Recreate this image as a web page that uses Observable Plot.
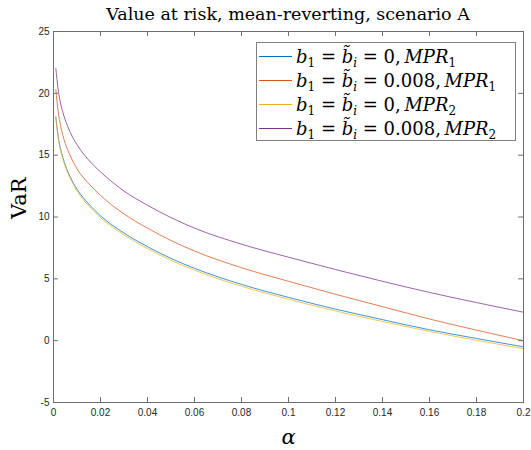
<!DOCTYPE html>
<html><head><meta charset="utf-8">
<script src="https://cdn.jsdelivr.net/npm/d3@7"></script>
<script src="https://cdn.jsdelivr.net/npm/@observablehq/plot@0.6"></script>
<style>
body{margin:0;background:#fff}
#wrap{position:relative;width:531px;height:450px;overflow:hidden}
#title{position:absolute;left:53px;width:470px;top:4px;text-align:center;font-family:"DejaVu Serif",serif;font-size:17.5px;line-height:20px;color:#000}
#legend{position:absolute;left:256px;top:42px;width:258px;height:96px;border:1px solid #808080;background:#fff;padding-top:1px}
.row{display:flex;align-items:center;height:24px;font-family:"DejaVu Serif",serif;font-size:18px;color:#000;white-space:nowrap}
.sw{display:inline-block;width:33px;height:1px;margin-left:2px;margin-right:4px;flex:none}
.row i{font-style:italic}
.row sub{font-size:12px;vertical-align:-4px;line-height:0}
</style></head>
<body><div id="wrap"><div id="chart"></div><div id="title"></div><div id="legend"></div></div>
<script>
const titleText = "Value at risk, mean-reverting, scenario A";
const xLabel = "α";
const yLabel = "VaR";
const xTicks = [0, 0.02, 0.04, 0.06, 0.08, 0.1, 0.12, 0.14, 0.16, 0.18, 0.2];
const xTickLabels = ["0", "0.02", "0.04", "0.06", "0.08", "0.1", "0.12", "0.14", "0.16", "0.18", "0.2"];
const yTicks = [-5, 0, 5, 10, 15, 20, 25];
const yTickLabels = ["-5", "0", "5", "10", "15", "20", "25"];

const alpha = [0.001,0.002,0.003,0.004,0.005,0.006,0.008,0.01,0.015,0.02,0.03,0.04,0.05,0.06,0.08,0.1,0.12,0.14,0.16,0.18,0.2];
const varB0Mpr1   = [18.1,16.5,15.5,14.8,14.2,13.7,12.9,12.25,11.05,10.1,8.7,7.6,6.65,5.85,4.55,3.5,2.55,1.7,0.88,0.18,-0.5];
const varB008Mpr1 = [20.3,18.5,17.4,16.6,15.95,15.45,14.6,13.9,12.7,11.75,10.25,9.1,8.1,7.25,5.9,4.8,3.75,2.75,1.75,0.85,0.0];
const varB0Mpr2   = [18.0,16.4,15.4,14.7,14.1,13.6,12.8,12.1,10.9,9.95,8.55,7.45,6.5,5.7,4.4,3.35,2.4,1.55,0.75,0.03,-0.65];
const varB008Mpr2 = [22.0,20.3,19.2,18.45,17.85,17.35,16.5,15.85,14.6,13.65,12.1,10.95,9.95,9.1,7.8,6.75,5.75,4.8,3.9,3.08,2.3];

const seriesNames = ["s1","s2","s3","s4"];
const seriesValues = [varB0Mpr1, varB008Mpr1, varB0Mpr2, varB008Mpr2];
const seriesColors = ["#0072BD","#D95319","#EDB120","#7E2F8E"];
const legendHtml = [
  '<i>b</i><sub>1</sub>&nbsp;=&nbsp;<i>b&#771;</i><sub><i>i</i></sub>&nbsp;=&nbsp;0,&thinsp;<i>MPR</i><sub>1</sub>',
  '<i>b</i><sub>1</sub>&nbsp;=&nbsp;<i>b&#771;</i><sub><i>i</i></sub>&nbsp;=&nbsp;0.008,&thinsp;<i>MPR</i><sub>1</sub>',
  '<i>b</i><sub>1</sub>&nbsp;=&nbsp;<i>b&#771;</i><sub><i>i</i></sub>&nbsp;=&nbsp;0,&thinsp;<i>MPR</i><sub>2</sub>',
  '<i>b</i><sub>1</sub>&nbsp;=&nbsp;<i>b&#771;</i><sub><i>i</i></sub>&nbsp;=&nbsp;0.008,&thinsp;<i>MPR</i><sub>2</sub>'
];

const rows = [];
seriesValues.forEach((vals, s) => alpha.forEach((a, i) => rows.push({a, v: vals[i], s: seriesNames[s]})));

const axisColor = "#6e6e6e";
const tickLenX = 0.0021, tickLenY = 0.4;

const chart = Plot.plot({
  width: 531, height: 450,
  marginLeft: 53, marginRight: 8, marginTop: 31, marginBottom: 48,
  style: {fontFamily: "'Liberation Sans', Arial, sans-serif", fontSize: "10px", color: "#262626", background: "#fff"},
  x: {domain: [0, 0.2]},
  y: {domain: [-5, 25]},
  color: {domain: seriesNames, range: seriesColors},
  marks: [
    Plot.line(rows, {x: "a", y: "v", z: "s", stroke: "s", strokeWidth: 0.75, curve: "monotone-x"}),
    Plot.frame({stroke: axisColor, strokeWidth: 1}),
    Plot.ruleX(xTicks, {x: d => d, y1: -5, y2: -5 + tickLenY, stroke: axisColor}),
    Plot.ruleX(xTicks, {x: d => d, y1: 25, y2: 25 - tickLenY, stroke: axisColor}),
    Plot.ruleY(yTicks, {y: d => d, x1: 0, x2: tickLenX, stroke: axisColor}),
    Plot.ruleY(yTicks, {y: d => d, x1: 0.2, x2: 0.2 - tickLenX, stroke: axisColor}),
    Plot.axisX({ticks: xTicks, tickSize: 0, tickPadding: 6, tickFormat: (d, i) => xTickLabels[i], label: null}),
    Plot.axisY({ticks: yTicks, tickSize: 0, tickPadding: 4, tickFormat: (d, i) => yTickLabels[i], label: null}),
    Plot.text([xLabel], {frameAnchor: "bottom", dy: 41, text: d => d, fontSize: 21, fontStyle: "italic", fontFamily: "'DejaVu Serif', serif", fill: "#000"}),
    Plot.text([yLabel], {frameAnchor: "left", dx: -34, dy: 2, rotate: -90, text: d => d, fontSize: 21, fontFamily: "'DejaVu Serif', serif", fill: "#000"})
  ]
});
document.getElementById("chart").appendChild(chart);
document.getElementById("title").textContent = titleText;
const leg = document.getElementById("legend");
legendHtml.forEach((h, i) => {
  const r = document.createElement("div");
  r.className = "row";
  r.innerHTML = '<span class="sw" style="background:' + seriesColors[i] + '"></span><span>' + h + '</span>';
  leg.appendChild(r);
});
</script></body></html>
